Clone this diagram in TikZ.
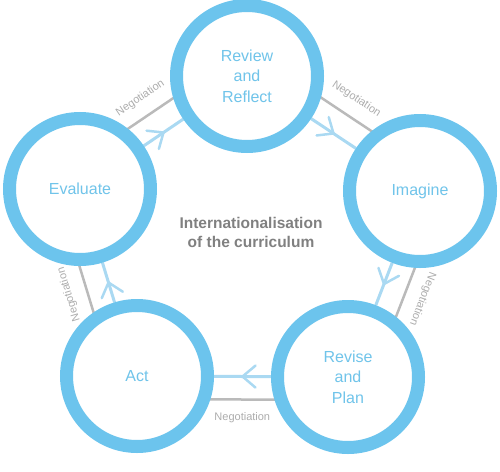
\documentclass[tikz,border=0pt]{standalone}
\usepackage{fontspec}
\setmainfont{Liberation Sans}
\usetikzlibrary{calc,decorations.markings,backgrounds}
\definecolor{ringblue}{RGB}{108,196,237}
\definecolor{stagetext}{RGB}{112,196,234}
\definecolor{flowblue}{RGB}{170,217,242}
\definecolor{neggray}{RGB}{186,186,186}
\definecolor{negtext}{RGB}{172,172,172}
\definecolor{centergray}{RGB}{128,128,128}
\begin{document}
\begin{tikzpicture}[x=1pt,y=-1pt,
  stage/.style={circle, draw=ringblue, line width=13pt, fill=white,
    minimum size=141pt, inner sep=0pt, text=stagetext, align=center,
    font=\fontsize{16}{20.5}\selectfont},
  flowline/.style={draw=flowblue, line width=3pt,
    decoration={markings, mark=at position 0.5 with
      {\pgfsetstrokecolor{flowblue}\pgfsetlinewidth{2.5pt}%
       \pgfsetroundcap\pgfsetmiterjoin
       \pgfpathmoveto{\pgfpoint{-13pt}{-11pt}}%
       \pgfpathlineto{\pgfpoint{0pt}{0pt}}%
       \pgfpathlineto{\pgfpoint{-13pt}{11pt}}%
       \pgfusepath{stroke}}},
    postaction={decorate}},
  negline/.style={draw=neggray, line width=2.5pt},
  negot/.style={text=negtext, font=\fontsize{11}{13}\selectfont,
    inner xsep=0pt, inner ysep=12pt, sloped, pos=0.5},
  centertext/.style={text=centergray, align=center,
    font=\fontsize{15.5}{19}\selectfont\bfseries}
]
\useasboundingbox (0,0) rectangle (500,471);

\node[stage] (rr) at (247,76) {Review\\and\\Reflect};
\node[stage] (im) at (420,191) {Imagine};
\node[stage] (rp) at (348,377) {Revise\\and\\Plan};
\node[stage] (ac) at (137,376) {Act};
\node[stage] (ev) at (80,189) {Evaluate};

\node[centertext] (ic) at (251,232) {Internationalisation\\of the curriculum};

\begin{scope}[on background layer]
  % flow arrows
  \draw[flowline] (rr) -- (im);
  \draw[flowline] (im) -- (rp);
  \draw[flowline] (rp) -- (ac);
  \draw[flowline] (ac) -- (ev);
  \draw[flowline] (ev) -- (rr);
  % negotiation lines
  \draw[negline] ($(ev.center)!23pt!90:(rr.center)$) -- ($(rr.center)!23pt!-90:(ev.center)$)
    node[negot, above] (n1) {Negotiation};
  \draw[negline] ($(rr.center)!23pt!90:(im.center)$) -- ($(im.center)!23pt!-90:(rr.center)$)
    node[negot, above] (n2) {Negotiation};
  \draw[negline] ($(im.center)!23pt!90:(rp.center)$) -- ($(rp.center)!23pt!-90:(im.center)$)
    node[negot, above, allow upside down] (n3) {Negotiation};
  \draw[negline] ($(rp.center)!23pt!90:(ac.center)$) -- ($(ac.center)!23pt!-90:(rp.center)$)
    node[negot, below] (n4) {Negotiation};
  \draw[negline] ($(ac.center)!23pt!90:(ev.center)$) -- ($(ev.center)!23pt!-90:(ac.center)$)
    node[negot, above, allow upside down] (n5) {Negotiation};
\end{scope}
\end{tikzpicture}
\end{document}
